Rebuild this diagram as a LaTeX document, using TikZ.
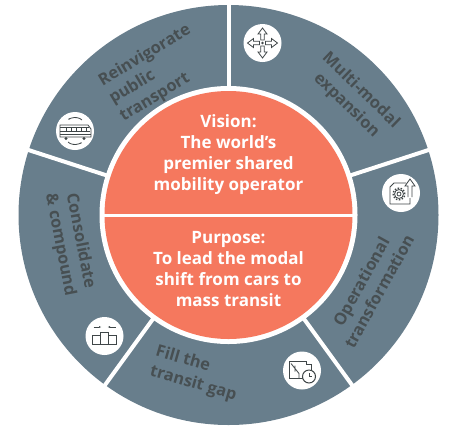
\documentclass[tikz,border=0pt]{standalone}
\usepackage{fontspec}
\setmainfont{Open Sans}
\usepackage{xcolor}
\usetikzlibrary{arrows.meta}
\definecolor{ringgrey}{HTML}{687E8C}
\definecolor{coral}{HTML}{F5785E}
\definecolor{labelgrey}{HTML}{474F52}
\definecolor{icongrey}{HTML}{3F4648}
\tikzset{
  sectorlabel/.style={text=labelgrey, font=\bfseries\fontsize{16.4}{20.5}\selectfont, inner sep=0pt},
  corelabel/.style={text=white, font=\bfseries\fontsize{17}{21}\selectfont, align=center, inner sep=0pt},
  iconbadge/.style={circle, fill=white, minimum size=38pt, inner sep=0pt},
  iconline/.style={draw=icongrey, line width=0.8pt},
  gapline/.style={draw=white, line width=4pt},
}
\begin{document}
\begin{tikzpicture}[x=1pt, y=-1pt]
    \useasboundingbox (0,0) rectangle (457,432);
    \coordinate (mid) at (228.5,215);
    % Ring and core
    \fill[ringgrey] (mid) circle (210pt);
    \fill[white] (mid) circle (129pt);
    \fill[coral] (mid) circle (124pt);
    % Gaps
    \foreach \ang/\gapname in {90/a, 18/b, -54/c, -126/d, 162/e} {
        \coordinate (in\gapname) at ([shift={(\ang:127pt)}]mid);
        \coordinate (out\gapname) at ([shift={(\ang:213pt)}]mid);
        \draw[gapline] (in\gapname) -- (out\gapname);
    }
    \draw[white, line width=3pt] ([shift={(-126pt,0)}]mid) -- ([shift={(126pt,0)}]mid);
    % Core texts
    \node[corelabel] (vision) at (228.5,154.5) {Vision:\\The world’s\\premier shared\\mobility operator};
    \node[corelabel] (purpose) at (228.5,269) {Purpose:\\To lead the modal\\shift from cars to\\mass transit};
    % Sector texts
    \node[sectorlabel, align=left, rotate=31] (reinvigorate) at (155.5,73.5) {Reinvigorate\\public\\transport};
    \node[sectorlabel, align=center, rotate=-44] (multimodal) at (353.5,98) {Multi-modal\\expansion};
    \node[sectorlabel, align=center, rotate=61] (operational) at (370,286.5) {Operational\\transformation};
    \node[sectorlabel, align=left, rotate=-16] (fillgap) at (196,374) {Fill the\\transit gap};
    \node[sectorlabel, align=center, rotate=-79] (consolidate) at (70,243) {Consolidate\\\& compound};
    % Icon badges
    \node[iconbadge] (busicon) at (75,131) {};
    \node[iconbadge] (arrowicon) at (262.5,43) {};
    \node[iconbadge] (gearicon) at (401,193) {};
    \node[iconbadge] (stepicon) at (104.5,336) {};
    \node[iconbadge] (clockicon) at (302,370.5) {};
    % Bus
    \begin{scope}[shift={(busicon.center)}]
        \draw[iconline] (-15,-6) -- (13,-6) -- (16,-2) -- (16,6) -- (-15,6) -- cycle;
        \draw[iconline] (-15,-4) -- (14,-4) (-15,0) -- (15,0) (-15,3) -- (16,3);
        \foreach \xpos in {-9,-4,1,6,11} \draw[iconline] (\xpos,-4) -- (\xpos,0);
        \fill[icongrey] (-9,7.5) circle (1.6pt) (9,7.5) circle (1.6pt);
        \draw[iconline, -{Latex[length=2pt]}] (7,-11) arc (-30:-150:8 and 5);
        \draw[iconline, -{Latex[length=2pt]}] (-7,11) arc (150:30:8 and 5);
    \end{scope}
    % Four arrows
    \begin{scope}[shift={(arrowicon.center)}]
        \fill[icongrey] (0,0) circle (1.4pt);
        \foreach \ang in {0,90,180,270} {
            \draw[iconline, rotate=\ang] (3,-1.8) -- (9,-1.8) -- (9,-4.5) -- (15,0) -- (9,4.5) -- (9,1.8) -- (3,1.8) -- cycle;
        }
    \end{scope}
    % Gear page
    \begin{scope}[shift={(gearicon.center)}]
        \draw[iconline] (5,-10) -- (-7,-10) -- (-11,-6) -- (-11,11) -- (9,11) -- (9,5);
        \draw[iconline] (-2,1) circle (4.5pt) (-2,1) circle (2pt);
        \draw[iconline, dash pattern=on 1.5pt off 1.5pt, line width=1.4pt] (-2,1) circle (5.8pt);
        \draw[iconline] (7,4) -- (7,-7) -- (4,-7) -- (9,-14) -- (14,-7) -- (11,-7) -- (11,4);
    \end{scope}
    % Steps
    \begin{scope}[shift={(stepicon.center)}]
        \draw[iconline] (-12,-1) rectangle (-4,8) (4,-1) rectangle (12,8) (-4,-4) rectangle (4,8);
        \draw[iconline, -{Latex[length=2.5pt]}] (-11,-9) -- (-3,-9);
        \draw[iconline, -{Latex[length=2.5pt]}] (11,-9) -- (3,-9);
    \end{scope}
    % Map and clock
    \begin{scope}[shift={(clockicon.center)}]
        \draw[iconline] (-13,-9) -- (4,-9) -- (4,-6) -- (9,-6) -- (9,-1);
        \draw[iconline] (-13,-9) -- (-13,8) -- (1,8);
        \draw[iconline] (-11,-7) -- (-3,3) (-7,-5) -- (-7,1) (-3,3) -- (-3,8);
        \draw[iconline, fill=white, line width=1pt] (7,6) circle (6.5pt);
        \draw[iconline] (7,2.5) -- (7,6) -- (10,6);
    \end{scope}
\end{tikzpicture}
\end{document}
